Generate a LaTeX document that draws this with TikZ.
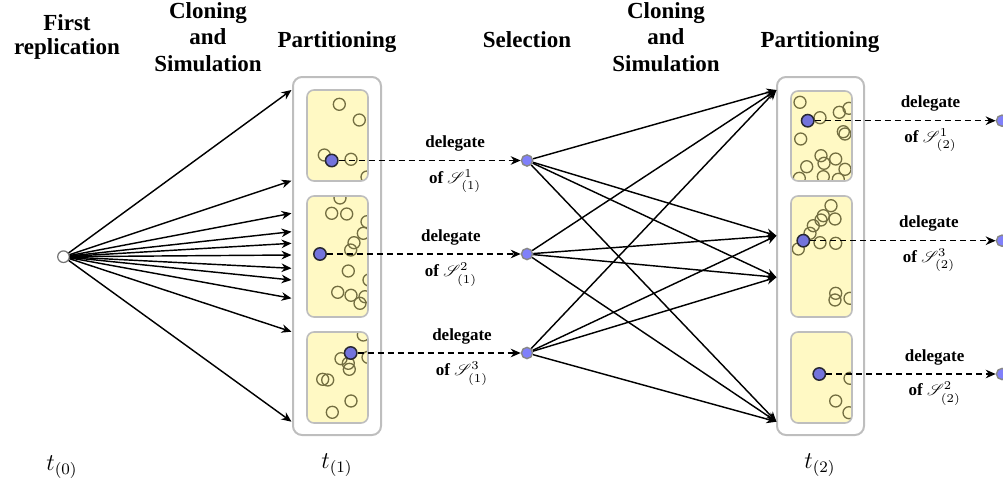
\documentclass[tikz,border=0pt]{standalone}
\usepackage{fontspec}
\setmainfont{Liberation Serif}
\usepackage{mathrsfs}
\usetikzlibrary{arrows.meta}
\definecolor{boxgray}{RGB}{190,190,190}
\definecolor{cellyellow}{RGB}{255,249,196}
\definecolor{partcol}{RGB}{115,110,65}
\definecolor{delfill}{RGB}{115,115,220}
\definecolor{deldraw}{RGB}{40,40,50}
\definecolor{selfill}{RGB}{128,128,250}
\definecolor{seldraw}{RGB}{135,135,135}
\tikzset{
  outerbox/.style={draw=boxgray, line width=1pt, rounded corners=4.5pt},
  innerbox/.style={draw=boxgray, line width=0.8pt, rounded corners=3.5pt},
  particle/.style={draw=partcol, line width=0.65pt},
  delnode/.style={circle, fill=delfill, draw=deldraw, line width=0.75pt, inner sep=0pt, minimum size=6.2pt},
  selnode/.style={circle, fill=selfill, draw=seldraw, line width=0.7pt, inner sep=0pt, minimum size=5.6pt},
  startnode/.style={circle, fill=white, draw=black!55, line width=0.6pt, inner sep=0pt, minimum size=5.8pt},
  arr/.style={-{Stealth[length=5pt,width=4.3pt]}, line width=0.72pt},
  dasharr/.style={-{Stealth[length=5pt,width=4.3pt]}, line width=0.72pt, dash pattern=on 3pt off 2pt},
  header/.style={font=\bfseries\fontsize{11.5}{13.3}\selectfont, align=center, inner sep=0pt},
  lbl/.style={font=\bfseries\fontsize{8.5}{10}\selectfont, inner sep=0pt},
  tlbl/.style={font=\fontsize{12}{14}\selectfont, inner sep=0pt}
}
\newcommand{\cellbox}[3]{%
  \fill[cellyellow, rounded corners=3.5pt] #1 rectangle #2;
  \begin{scope}
    \clip[rounded corners=3.5pt] #1 rectangle #2;
    \foreach \p in {#3} \draw[particle] \p circle[radius=3pt];
  \end{scope}
  \draw[innerbox] #1 rectangle #2;
}
\begin{document}
\begin{tikzpicture}[x=0.5pt,y=-0.5pt]
\useasboundingbox (0,0) rectangle (1003,493);

% headers
\node[header, font=\bfseries\fontsize{11.5}{12.2}\selectfont] (h1) at (67,37) {First\\replication};
\node[header] (h2) at (208,37) {Cloning\\and\\Simulation};
\node[header, anchor=base] (h3) at (337,47) {Partitioning};
\node[header, anchor=base] (h4) at (527,47) {Selection};
\node[header] (h5) at (666,37) {Cloning\\and\\Simulation};
\node[header, anchor=base] (h6) at (820,47) {Partitioning};

% time labels
\node[tlbl] (t0) at (62,467) {$t_{(0)}$};
\node[tlbl] (t1) at (337,465) {$t_{(1)}$};
\node[tlbl] (t2) at (820,465) {$t_{(2)}$};

% outer boxes
\draw[outerbox] (293,77) rectangle (381,435);
\draw[outerbox] (777,77) rectangle (864,435);

% inner boxes with particles
\cellbox{(307,90)}{(368,181)}{(339.3,104.3),(359.3,120),(324.3,155),(351,159.3),(367,177)}
\cellbox{(307,196)}{(368,317)}{(340,198),(331.7,213.3),(346.7,214),(367,221.7),(363.3,233.3),(354,242.7),(350.7,250),(348.3,271),(369,280),(337.7,292.3),(351,295.3),(360,303.3),(365,296.7)}
\cellbox{(307,332)}{(368,423)}{(363.3,335),(341,358.7),(348.3,363.3),(349.3,369.3),(368,357.3),(322.7,379.3),(327.7,380),(351,401),(332.3,412.3)}
\cellbox{(791,91)}{(852,181)}{(800,102.3),(820,117.7),(839.3,112.3),(849,108.3),(843.3,131.7),(845,134),(800.7,139),(821,155.7),(824,163.3),(835.7,159),(806.7,166.7),(845,169.3),(823.3,176.7),(838.3,179.3),(799.3,178.3)}
\cellbox{(791,196)}{(852,317)}{(831,205.7),(823.3,215.7),(835,219),(821,220),(813.3,225.7),(810,233.3),(798.3,249),(820,242.7),(835.7,243.3),(835.7,293.3),(835,300),(850,298.3)}
\cellbox{(791,332)}{(852,423)}{(850,378.3),(835.7,401),(849,412.7)}

% delegates
\node[delnode] (d1a) at (331.7,160.5) {};
\node[delnode] (d1b) at (320,254) {};
\node[delnode] (d1c) at (350.7,353) {};
\node[delnode] (d2a) at (807.7,120.7) {};
\node[delnode] (d2b) at (803.3,240.7) {};
\node[delnode] (d2c) at (819.3,374) {};

% start and selection nodes
\node[startnode] (s0) at (63.5,256.7) {};
\node[selnode] (sel1) at (527,160.5) {};
\node[selnode] (sel2) at (527,254) {};
\node[selnode] (sel3) at (527,353) {};
\node[selnode] (r1) at (1002,120.7) {};
\node[selnode] (r2) at (1002,240.7) {};
\node[selnode] (r3) at (1002,374) {};

% fan from start
\foreach \i/\y in {1/90,2/180.7,3/213.3,4/231.7,5/243.3,6/255,7/268.3,8/280,9/298.3,10/331.7,11/421.7}{
  \coordinate (f\i) at (291.5,\y);
  \draw[arr] (s0) -- (f\i);
}

% selection to second cloning
\coordinate (g1) at (776.5,90);
\coordinate (g2) at (776.5,235.7);
\coordinate (g3) at (776.5,277.3);
\coordinate (g4) at (776.5,421.7);
\foreach \s in {sel1,sel2,sel3}{
  \foreach \g in {g1,g2,g3,g4}{
    \draw[arr] (\s) -- (\g);
  }
}

% delegate arrows
\draw[dasharr] (d1a) -- node[lbl, pos=0.64, yshift=8.5pt] {delegate} node[lbl, pos=0.64, yshift=-10.3pt] {of $\mathscr{S}^{1}_{(1)}$} (sel1);
\draw[dasharr] (d1b) -- node[lbl, pos=0.64, yshift=8.5pt] {delegate} node[lbl, pos=0.64, yshift=-10.3pt] {of $\mathscr{S}^{2}_{(1)}$} (sel2);
\draw[dasharr] (d1c) -- node[lbl, pos=0.64, yshift=8.5pt] {delegate} node[lbl, pos=0.64, yshift=-10.3pt] {of $\mathscr{S}^{3}_{(1)}$} (sel3);
\draw[dasharr] (d2a) -- node[lbl, pos=0.64, yshift=8.5pt] {delegate} node[lbl, pos=0.64, yshift=-9.8pt] {of $\mathscr{S}^{1}_{(2)}$} (r1);
\draw[dasharr] (d2b) -- node[lbl, pos=0.64, yshift=8.5pt] {delegate} node[lbl, pos=0.64, yshift=-9.8pt] {of $\mathscr{S}^{3}_{(2)}$} (r2);
\draw[dasharr] (d2c) -- node[lbl, pos=0.64, yshift=8.5pt] {delegate} node[lbl, pos=0.64, yshift=-9.8pt] {of $\mathscr{S}^{2}_{(2)}$} (r3);
\end{tikzpicture}
\end{document}
